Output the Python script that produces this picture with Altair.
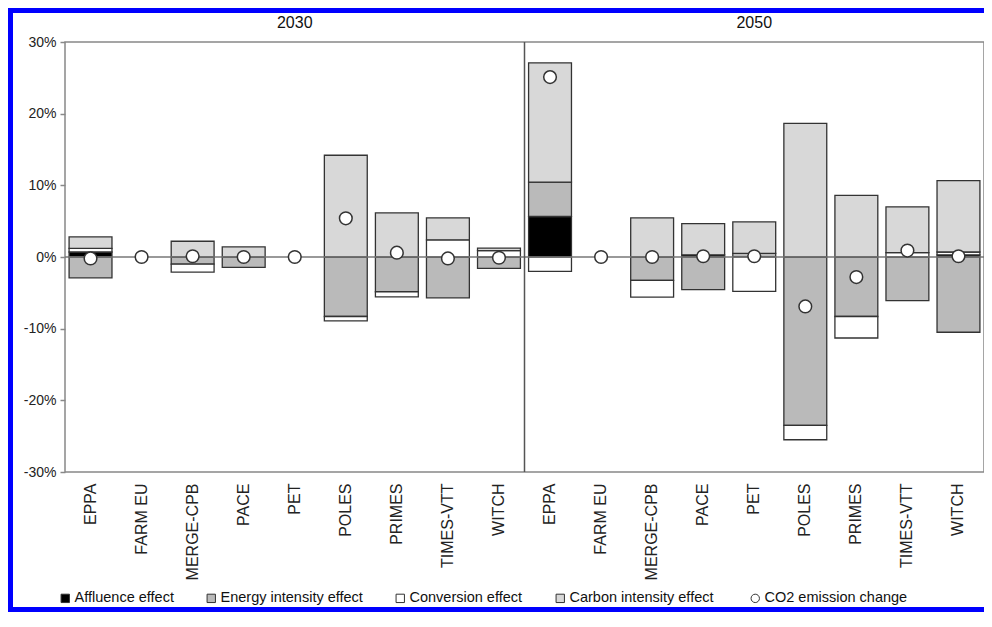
import altair as alt
import pandas as pd

# ---------------- data ----------------
models = ["EPPA", "FARM EU", "MERGE-CPB", "PACE", "PET", "POLES", "PRIMES", "TIMES-VTT", "WITCH"]
years = ["2030", "2050"]
effects = ["Affluence effect", "Energy intensity effect", "Conversion effect", "Carbon intensity  effect"]
co2_name = "CO2 emission change"

# values in percent, per model (order as in `models`)
affluence_2030 = [0.7, 0, 0, 0, 0, 0, 0, 0, 0]
energy_2030 = [-2.9, 0, -1.0, -1.45, 0, -8.3, -4.85, -5.7, -1.6]
conversion_2030 = [0.5, 0, -1.1, 0, 0, -0.6, -0.7, 2.4, 0.9]
carbon_2030 = [1.6, 0, 2.2, 1.4, 0, 14.2, 6.15, 3.05, 0.35]
co2_2030 = [-0.2, 0, 0.1, 0, 0, 5.4, 0.6, -0.2, -0.1]

affluence_2050 = [5.65, 0, 0, 0.3, 0, 0, 0, 0, 0.3]
energy_2050 = [4.8, 0, -3.25, -4.55, 0.5, -23.5, -8.3, -6.1, -10.5]
conversion_2050 = [-2.0, 0, -2.35, 0, -4.8, -2.0, -3.0, 0.6, 0.4]
carbon_2050 = [16.65, 0, 5.45, 4.35, 4.4, 18.65, 8.6, 6.4, 9.95]
co2_2050 = [25.1, 0, 0, 0.1, 0.1, -6.9, -2.8, 0.9, 0.1]

series = {
    "2030": [affluence_2030, energy_2030, conversion_2030, carbon_2030],
    "2050": [affluence_2050, energy_2050, conversion_2050, carbon_2050],
}
co2 = {"2030": co2_2030, "2050": co2_2050}

y_ticks = [-30, -20, -10, 0, 10, 20, 30]

# ---------------- tables ----------------
keys = [f"{y}|{m}" for y in years for m in models]
bar_rows, co2_rows = [], []
for year in years:
    for mi, m in enumerate(models):
        key = f"{year}|{m}"
        for ei, eff in enumerate(effects):
            v = series[year][ei][mi]
            if v != 0:
                bar_rows.append({"key": key, "effect": eff, "value": v, "ord": ei})
        co2_rows.append({"key": key, "effect": co2_name, "value": co2[year][mi]})
bars_df = pd.DataFrame(bar_rows)
co2_df = pd.DataFrame(co2_rows)
header_df = pd.DataFrame({"key": [f"{y}|{models[len(models) // 2]}" for y in years], "label": years})
divider_df = pd.DataFrame({"key": [f"{years[1]}|{models[0]}"]})
one_df = pd.DataFrame({"a": [0]})

legend_domain = effects + [co2_name]
fill_range = ["#000000", "#bababa", "#ffffff", "#d8d8d8", "#ffffff"]
shape_range = ["square", "square", "square", "square", "circle"]

W, H = 919, 430
FONT = "Liberation Sans"

x_scale = alt.Scale(domain=keys, paddingInner=0, paddingOuter=0)
x_enc = alt.X(
    "key:N", scale=x_scale, sort=keys,
    axis=alt.Axis(title=None, labelAngle=-90, labelExpr="split(datum.value, '|')[1]",
                  ticks=False, domain=False, labelPadding=11, labelFontSize=16,
                  labelColor="#222", labelFont=FONT),
)
y_scale = alt.Scale(domain=[-30, 30], nice=False)
y_axis = alt.Axis(title=None, values=y_ticks, labelExpr="datum.value + '%'", grid=False,
                  domain=False, tickSize=5, tickColor="#888", tickWidth=1.5,
                  labelFontSize=14, labelPadding=4, labelColor="#222", labelFont=FONT)

legend = alt.Legend(
    title=None, orient="none", direction="horizontal", legendX=-7, legendY=549,
    symbolSize=70, symbolStrokeColor="#333", symbolStrokeWidth=1, labelFontSize=14.5,
    labelFont=FONT, labelColor="#111", labelOffset=2, columnPadding=30,
)

fill_scale = alt.Scale(domain=legend_domain, range=fill_range)

bars = alt.Chart(bars_df).mark_bar(
    width=alt.RelativeBandSize(0.84), stroke="#333", strokeWidth=1.3
).encode(
    x=x_enc,
    y=alt.Y("value:Q", stack="zero", scale=y_scale, axis=y_axis),
    fill=alt.Fill("effect:N", scale=fill_scale, legend=legend),
    order=alt.Order("ord:Q"),
)

zero = alt.Chart(one_df).mark_rule(color="#777", strokeWidth=1.5).encode(y=alt.datum(0))

divider = alt.Chart(divider_df).mark_rule(color="#555", strokeWidth=1.5).encode(
    x=alt.X("key:N", bandPosition=0)
)

points = alt.Chart(co2_df).mark_point(
    filled=True, size=160, stroke="#333", strokeWidth=1.5, opacity=1
).encode(
    x=alt.X("key:N"),
    y=alt.Y("value:Q", stack=False),
    fill=alt.Fill("effect:N", scale=fill_scale, legend=legend),
    shape=alt.Shape("effect:N", scale=alt.Scale(domain=legend_domain, range=shape_range), legend=legend),
)

headers = alt.Chart(header_df).mark_text(fontSize=16, font=FONT, color="#111", baseline="middle").encode(
    x=alt.X("key:N"), y=alt.value(-19), text="label:N"
)

# blue picture frame: filled strips on the left, top and bottom edges
blue = "#0000ff"
frame_left = alt.Chart(one_df).mark_rect(color=blue, strokeWidth=0).encode(
    x=alt.value(-57), x2=alt.value(-52), y=alt.value(-34), y2=alt.value(H + 140))
frame_top = alt.Chart(one_df).mark_rect(color=blue, strokeWidth=0).encode(
    x=alt.value(-57), x2=alt.value(W), y=alt.value(-34), y2=alt.value(-29))
frame_bottom = alt.Chart(one_df).mark_rect(color=blue, strokeWidth=0).encode(
    x=alt.value(-57), x2=alt.value(W), y=alt.value(H + 135), y2=alt.value(H + 140))

chart = alt.layer(
    bars, zero, divider, points, headers, frame_left, frame_top, frame_bottom
).properties(
    width=W, height=H,
    padding={"left": 57, "top": 34, "right": 0, "bottom": 140},
    autosize=alt.AutoSizeParams(type="none"),
    background="white",
).configure_view(
    stroke="#888", strokeWidth=1.5
).configure_legend(
    gridAlign="each"
)

chart.save("out.html", embed_options={"renderer": "svg", "actions": False})
